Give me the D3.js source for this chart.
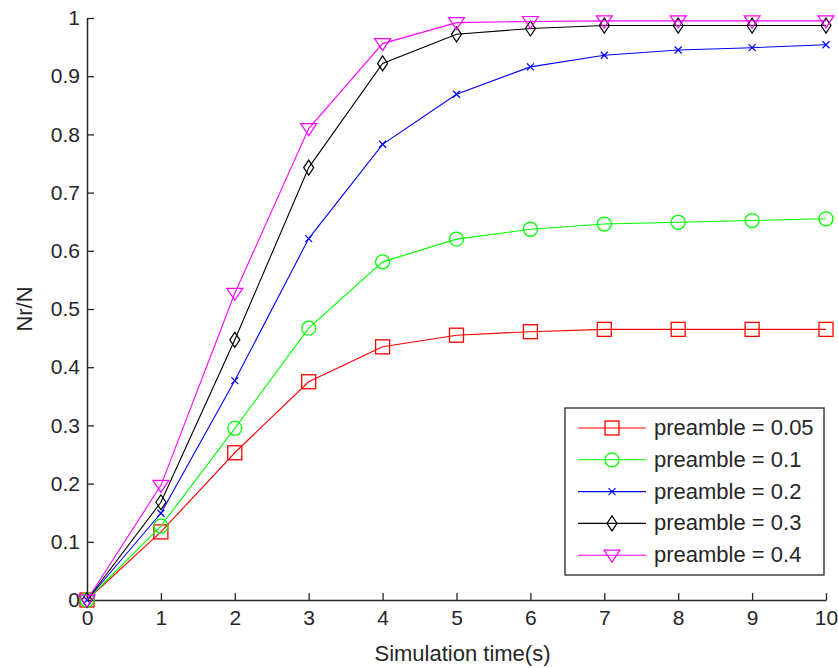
<!DOCTYPE html>
<html>
<head>
<meta charset="utf-8">
<script src="https://cdn.jsdelivr.net/npm/d3@7"></script>
<style>
  html, body { margin: 0; padding: 0; background: #fff; }
  svg { display: block; font-family: "Liberation Sans", Arial, sans-serif; }
</style>
</head>
<body>
<svg id="chart" width="838" height="668"></svg>
<script>
const times = [0, 1, 2, 3, 4, 5, 6, 7, 8, 9, 10];
const seriesNames = ["preamble = 0.05", "preamble = 0.1", "preamble = 0.2", "preamble = 0.3", "preamble = 0.4"];
const p005 = [0, 0.117, 0.253, 0.375, 0.435, 0.455, 0.461, 0.465, 0.465, 0.465, 0.465];
const p01  = [0, 0.127, 0.295, 0.467, 0.581, 0.620, 0.637, 0.646, 0.649, 0.652, 0.655];
const p02  = [0, 0.149, 0.377, 0.621, 0.783, 0.869, 0.916, 0.936, 0.945, 0.949, 0.954];
const p03  = [0, 0.168, 0.447, 0.743, 0.922, 0.972, 0.982, 0.987, 0.987, 0.987, 0.987];
const p04  = [0, 0.197, 0.527, 0.810, 0.956, 0.992, 0.994, 0.995, 0.995, 0.995, 0.995];
const xTicks = [0, 1, 2, 3, 4, 5, 6, 7, 8, 9, 10];
const yTicks = [0, 0.1, 0.2, 0.3, 0.4, 0.5, 0.6, 0.7, 0.8, 0.9, 1];
const colors = ["#ff0000", "#00ff00", "#0000ff", "#000000", "#ff00ff"];
const markers = ["square", "circle", "x", "diamond", "triangleDown"];
const xLabel = "Simulation time(s)";
const yLabel = "Nr/N";

const allSeries = [p005, p01, p02, p03, p04];

const svg = d3.select("#chart");
const margin = { left: 87, right: 12, top: 18, bottom: 68 };
const W = 838, H = 668;
const x = d3.scaleLinear().domain([0, 10]).range([margin.left, W - margin.right]);
const y = d3.scaleLinear().domain([0, 1]).range([H - margin.bottom, margin.top]);

const axisColor = "#262626";
const tickFont = "21px";
const labelFont = "22px";

// axes
const gx = svg.append("g").attr("transform", `translate(0,${y(0)})`)
  .call(d3.axisBottom(x).tickValues(xTicks).tickFormat(d3.format("d")).tickSize(-7).tickSizeOuter(0).tickPadding(10));
const gy = svg.append("g").attr("transform", `translate(${x(0)},0)`)
  .call(d3.axisLeft(y).tickValues(yTicks).tickFormat(d => d === 0 ? "0" : d === 1 ? "1" : d3.format(".1f")(d)).tickSize(-7).tickSizeOuter(0).tickPadding(7));
[gx, gy].forEach(g => {
  g.select(".domain").attr("stroke", axisColor).attr("stroke-width", 1.5);
  g.selectAll(".tick line").attr("stroke", axisColor).attr("stroke-width", 1.3);
  g.selectAll(".tick text").attr("fill", axisColor).style("font-size", tickFont).style("font-family", "'Liberation Sans', Arial, sans-serif");
});

// axis labels
svg.append("text").attr("x", (x(0) + x(10)) / 2 + 6).attr("y", 661)
  .attr("text-anchor", "middle").attr("fill", axisColor).style("font-size", labelFont).text(xLabel);
svg.append("text").attr("transform", `translate(32,${(y(0) + y(1)) / 2}) rotate(-90)`)
  .attr("text-anchor", "middle").attr("fill", axisColor).style("font-size", labelFont).text(yLabel);

// marker drawing
function drawMarker(g, type, cx, cy, color) {
  if (type === "square") {
    g.append("rect").attr("x", cx - 7).attr("y", cy - 7).attr("width", 14).attr("height", 14)
      .attr("fill", "none").attr("stroke", color).attr("stroke-width", 1.3);
  } else if (type === "circle") {
    g.append("circle").attr("cx", cx).attr("cy", cy).attr("r", 7)
      .attr("fill", "none").attr("stroke", color).attr("stroke-width", 1.3);
  } else if (type === "x") {
    const s = 3.5;
    g.append("path").attr("d", `M${cx - s},${cy - s}L${cx + s},${cy + s}M${cx - s},${cy + s}L${cx + s},${cy - s}`)
      .attr("stroke", color).attr("stroke-width", 1.2).attr("fill", "none");
  } else if (type === "diamond") {
    g.append("path").attr("d", `M${cx},${cy - 7.5}L${cx + 5},${cy}L${cx},${cy + 7.5}L${cx - 5},${cy}Z`)
      .attr("fill", "none").attr("stroke", color).attr("stroke-width", 1.2);
  } else if (type === "triangleDown") {
    g.append("path").attr("d", `M${cx - 8},${cy - 5}L${cx + 8},${cy - 5}L${cx},${cy + 7}Z`)
      .attr("fill", "none").attr("stroke", color).attr("stroke-width", 1.2);
  }
}

const line = d3.line().x((d, i) => x(times[i])).y(d => y(d));

allSeries.forEach((vals, si) => {
  const g = svg.append("g");
  g.append("path").datum(vals).attr("d", line).attr("fill", "none")
    .attr("stroke", colors[si]).attr("stroke-width", 1.1);
  vals.forEach((v, i) => drawMarker(g, markers[si], x(times[i]), y(v), colors[si]));
});

// legend
const lg = svg.append("g");
const lx = 565, ly = 408, lw = 259, lh = 167;
lg.append("rect").attr("x", lx).attr("y", ly).attr("width", lw).attr("height", lh)
  .attr("fill", "#fff").attr("stroke", axisColor).attr("stroke-width", 1.3);
seriesNames.forEach((name, i) => {
  const cy = 428 + i * 31.8;
  lg.append("line").attr("x1", 578).attr("x2", 646).attr("y1", cy).attr("y2", cy)
    .attr("stroke", colors[i]).attr("stroke-width", 1.1);
  drawMarker(lg, markers[i], 612, cy, colors[i]);
  lg.append("text").attr("x", 654).attr("y", cy + 7).attr("fill", axisColor)
    .style("font-size", labelFont).text(name);
});
</script>
</body>
</html>
